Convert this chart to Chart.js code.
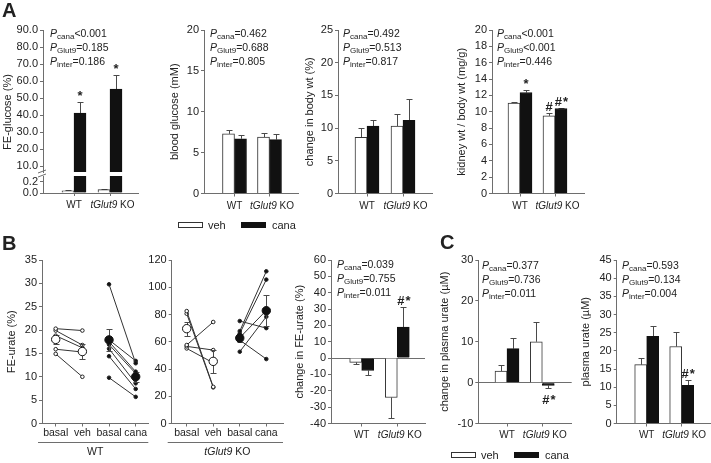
<!DOCTYPE html>
<html>
<head>
<meta charset="utf-8">
<title>Figure</title>
<script src="https://cdn.jsdelivr.net/npm/chart.js@4.4.1/dist/chart.umd.min.js"></script>
<style>
html,body{margin:0;padding:0;background:#fff;}
#fig{position:relative;width:711px;height:463px;overflow:hidden;font-family:Arial,"Liberation Sans",Helvetica,sans-serif;color:#222;}
#fig canvas{position:absolute;}
.letter{position:absolute;font-weight:bold;font-size:20px;line-height:20px;}
.pv{position:absolute;font-size:10.5px;line-height:14px;white-space:nowrap;}
.pv sub{font-size:8px;position:relative;top:2px;vertical-align:baseline;line-height:0;}
.ytitle{position:absolute;font-size:11px;white-space:nowrap;transform:translate(-50%,-50%) rotate(-90deg);}
.lgtxt{position:absolute;font-size:11px;line-height:12px;white-space:nowrap;transform:translateY(-50%);}
.sw{position:absolute;width:25px;height:6px;box-sizing:border-box;border:1px solid #333;transform:translateY(-50%);}
</style>
</head>
<body>
<div id="fig"></div>
<script>
// ================= DATA =================
const groups = ['WT', 'tGlut9 KO'];
const italicPart = 'tGlut9';
const pairLabels = ['basal', 'veh', 'basal', 'cana'];
const seriesNames = ['veh', 'cana'];
const pNames = ['cana', 'Glut9', 'inter'];

// A: FE-glucose (%)  (broken axis)
const feGluVeh = [0.04, 0.06];
const feGluVehErr = [0.01, 0.012];
const feGluCana = [41.2, 55.3];
const feGluCanaErr = [6.5, 8.0];
const feGluCanaMarks = ['*', '*'];
const feGluTicksUpper = [10, 20, 30, 40, 50, 60, 70, 80, 90];
const feGluTicksLower = [0, 0.2];
const feGluP = ['<0.001', '=0.185', '=0.186'];

// A: blood glucose (mM)
const bgVeh = [7.3, 6.9];
const bgVehErr = [0.5, 0.45];
const bgCana = [6.7, 6.6];
const bgCanaErr = [0.45, 0.7];
const bgTicks = [0, 5, 10, 15, 20];
const bgP = ['=0.462', '=0.688', '=0.805'];

// A: change in body wt (%)
const bwVeh = [8.6, 10.3];
const bwVehErr = [1.4, 1.8];
const bwCana = [10.3, 11.2];
const bwCanaErr = [1.0, 3.2];
const bwTicks = [0, 5, 10, 15, 20, 25];
const bwP = ['=0.492', '=0.513', '=0.817'];

// A: kidney wt / body wt (mg/g)
const kwVeh = [11.05, 9.5];
const kwVehErr = [0.2, 0.4];
const kwCana = [12.35, 10.4];
const kwCanaErr = [0.25, 0.08];
const kwVehMarks = ['', '#'];
const kwCanaMarks = ['*', '#*'];
const kwTicks = [0, 2, 4, 6, 8, 10, 12, 14, 16, 18, 20];
const kwP = ['<0.001', '<0.001', '=0.446'];

// B: FE-urate (%) WT, paired
const wtVehBasal = [20.3, 19.9, 18.8, 15.9, 14.9];
const wtVehAfter = [19.9, 16.8, 16.2, 15.3, 10.0];
const wtCanaBasal = [29.8, 17.9, 17.5, 16.9, 16.0, 14.4, 9.8];
const wtCanaAfter = [12.9, 13.4, 11.1, 10.7, 8.6, 7.4, 5.7];
const wtVehMean = [18.0, 15.4];
const wtVehSem = [1.0, 1.6];
const wtCanaMean = [17.9, 10.0];
const wtCanaSem = [2.3, 1.1];
const feUrWtTicks = [0, 5, 10, 15, 20, 25, 30, 35];

// B: FE-urate (%) tGlut9 KO, paired
const koVehBasal = [82.5, 80.6, 57.6, 56.6, 55.1];
const koVehAfter = [26.9, 26.5, 74.5, 53.9, 44.5];
const koCanaBasal = [75.2, 67.8, 66.1, 63.0, 61.2, 52.7];
const koCanaAfter = [70.0, 111.7, 105.6, 83.0, 47.3, 78.4];
const koVehMean = [69.6, 45.6];
const koVehSem = [5.1, 8.6];
const koCanaMean = [62.7, 82.8];
const koCanaSem = [2.7, 11.4];
const feUrKoTicks = [0, 20, 40, 60, 80, 100, 120];

// B: change in FE-urate (%)
const dFeVeh = [-2.6, -24.1];
const dFeVehErr = [1.1, 12.8];
const dFeCana = [-7.6, 19.0];
const dFeCanaErr = [2.8, 12.2];
const dFeCanaMarks = ['', '#*'];
const dFeTicks = [-40, -30, -20, -10, 0, 10, 20, 30, 40, 50, 60];
const dFeP = ['=0.039', '=0.755', '=0.011'];

// C: change in plasma urate (µM)
const dPuVeh = [2.8, 10.0];
const dPuVehErr = [1.5, 4.9];
const dPuCana = [8.3, -0.7];
const dPuCanaErr = [2.6, 0.6];
const dPuCanaMarks = ['', '#*'];
const dPuTicks = [-10, 0, 10, 20, 30];
const dPuP = ['=0.377', '=0.736', '=0.011'];

// C: plasma urate (µM)
const puVeh = [16.2, 21.2];
const puVehErr = [1.8, 3.9];
const puCana = [24.0, 10.5];
const puCanaErr = [2.8, 1.4];
const puCanaMarks = ['', '#*'];
const puTicks = [0, 5, 10, 15, 20, 25, 30, 35, 40, 45];
const puP = ['=0.593', '=0.134', '=0.004'];

// ================= STYLE / HELPERS =================
const FONT = 'Arial, "Liberation Sans", Helvetica, sans-serif';
const TXT = '#222', AX = '#6e6e6e', ERR = '#4a4a4a';
const XLAB = 10;                 // x label font size
const labelShift = [0, 2.5];     // horizontal nudge of group labels under the bars
Chart.defaults.font.family = FONT;
Chart.defaults.font.size = 11;
Chart.defaults.color = TXT;

const fig = document.getElementById('fig');

function mkCanvas(l, t, w, h) {
  const c = document.createElement('canvas');
  c.width = w; c.height = h;
  c.style.left = l + 'px'; c.style.top = t + 'px';
  c.style.width = w + 'px'; c.style.height = h + 'px';
  fig.appendChild(c);
  return c;
}

function place(area, wy, hx, padTop, padRight, padBottom) {
  const left = Math.floor(area.l - wy);
  const top = Math.floor(area.t - padTop);
  const W = Math.ceil(area.r + padRight) - left;
  const H = Math.ceil(area.b + hx + padBottom) - top;
  return {
    canvas: mkCanvas(left, top, W, H),
    wy: area.l - left,
    padding: { left: 0, top: area.t - top, right: left + W - area.r, bottom: top + H - area.b - hx }
  };
}

function xRange(area, c1, cn, n) {
  const s = (cn - c1) / (n - 1);
  return { min: 1 - (c1 - area.l) / s, max: n + (area.r - cn) / s };
}

function richText(ctx, text, cx, cy, size) {
  const parts = [];
  const k = text.indexOf(italicPart);
  if (k >= 0) {
    if (k > 0) parts.push([text.slice(0, k), false]);
    parts.push([italicPart, true]);
    const rest = text.slice(k + italicPart.length);
    if (rest) parts.push([rest, false]);
  } else parts.push([text, false]);
  const fonts = parts.map(p => (p[1] ? 'italic ' : '') + size + 'px ' + FONT);
  let total = 0;
  const ws = parts.map((p, i) => { ctx.font = fonts[i]; const w = ctx.measureText(p[0]).width; total += w; return w; });
  let x = cx - total / 2;
  ctx.textAlign = 'left';
  parts.forEach((p, i) => { ctx.font = fonts[i]; ctx.fillText(p[0], x, cy); x += ws[i]; });
}

const extras = {
  id: 'extras',
  beforeDatasetDraw(chart, args) {
    const ds = chart.data.datasets[args.index];
    if (!ds.errors) return;
    const ys = chart.scales.y, a = chart.chartArea, ctx = chart.ctx;
    ctx.save();
    ctx.beginPath();
    ctx.rect(a.left - 10, a.top - 0.5, a.right - a.left + 20, a.bottom - a.top + 1);
    ctx.clip();
    ctx.strokeStyle = ERR; ctx.lineWidth = 1;
    args.meta.data.forEach((el, i) => {
      const v = ds.data[i].y, e = ds.errors[i];
      if (e == null) return;
      const x = Math.round(el.x) + 0.5;
      const cap = ds.errCap || 3;
      const dirs = ds.errBoth ? [1, -1] : [v < 0 ? -1 : 1];
      dirs.forEach(d => {
        const y0 = ys.getPixelForValue(v);
        const y1 = Math.round(ys.getPixelForValue(v + d * e)) + 0.5;
        ctx.beginPath();
        ctx.moveTo(x, y0); ctx.lineTo(x, y1);
        ctx.moveTo(x - cap, y1); ctx.lineTo(x + cap, y1);
        ctx.stroke();
      });
    });
    ctx.restore();
  },
  afterDatasetsDraw(chart) {
    const ctx = chart.ctx, ys = chart.scales.y, a = chart.chartArea;
    chart.data.datasets.forEach((ds, di) => {
      if (!ds.marks) return;
      const meta = chart.getDatasetMeta(di);
      ds.marks.forEach((m, i) => {
        if (!m) return;
        const v = ds.data[i].y, e = ds.errors ? ds.errors[i] : 0;
        const neg = v < 0;
        const yEdge = ys.getPixelForValue(neg ? v - e : v + e);
        if (yEdge < a.top || yEdge > a.bottom) return;
        ctx.save();
        ctx.font = 'bold 13px ' + FONT;
        if ('letterSpacing' in ctx) ctx.letterSpacing = m.length > 1 ? '1px' : '0px';
        ctx.fillStyle = TXT; ctx.textAlign = 'center';
        ctx.textBaseline = neg ? 'top' : 'alphabetic';
        ctx.fillText(m, meta.data[i].x + (m.length > 1 ? 1 : 0), neg ? yEdge + 6 : yEdge - 2);
        ctx.restore();
      });
    });
  },
  afterDraw(chart, args, o) {
    const ctx = chart.ctx, a = chart.chartArea, xs = chart.scales.x;
    if (o.xLabels) {
      ctx.save(); ctx.fillStyle = TXT; ctx.textBaseline = 'middle';
      o.xLabels.forEach((t, i) => richText(ctx, t, xs.getPixelForValue(i + 1) + labelShift[i], a.bottom + o.labelDy, XLAB));
      ctx.restore();
    }
    if (o.group) {
      ctx.save(); ctx.strokeStyle = AX; ctx.lineWidth = 1;
      const y = Math.round(a.bottom + o.group.lineDy) + 0.5;
      ctx.beginPath(); ctx.moveTo(a.left - o.group.ext, y); ctx.lineTo(a.right, y); ctx.stroke();
      ctx.fillStyle = TXT; ctx.textBaseline = 'middle';
      richText(ctx, o.group.text, (a.left + a.right) / 2, a.bottom + o.group.textDy, XLAB + 0.5);
      ctx.restore();
    }
    if (o.breakMarks) {
      ctx.save(); ctx.strokeStyle = AX; ctx.lineWidth = 1;
      [a.top - 0.5, a.top - 4.5].forEach(y => {
        ctx.beginPath(); ctx.moveTo(a.left - 5, y + 1.5); ctx.lineTo(a.left + 3, y - 1.5); ctx.stroke();
      });
      ctx.restore();
    }
  }
};
Chart.register(extras);

function yAxis(o) {
  return {
    type: 'linear', position: 'left', min: o.min, max: o.max,
    afterBuildTicks: s => { s.ticks = o.ticks.map(v => ({ value: v })); },
    afterFit: s => { s.width = o.wy; },
    ticks: { font: { size: 11 }, color: TXT, padding: 2, callback: o.fmt || (v => String(v)) },
    grid: {
      drawOnChartArea: !!o.zero, drawTicks: true, tickLength: 3, lineWidth: 1,
      color: c => (o.zero && c.tick && c.tick.value === 0) ? AX : 'rgba(0,0,0,0)',
      tickColor: AX
    },
    border: { display: true, color: AX, width: 1 },
    title: o.title ? { display: true, text: o.title, font: { size: 11 }, color: TXT, padding: 0 } : { display: false }
  };
}

function xAxis(o) {
  return {
    type: 'linear', position: 'bottom', min: o.min, max: o.max, offset: false,
    display: o.display !== false,
    afterBuildTicks: s => { s.ticks = o.pos.map(v => ({ value: v })); },
    afterFit: s => { s.height = o.hx; },
    ticks: {
      display: !!o.labels, autoSkip: false, maxRotation: 0, minRotation: 0,
      font: { size: XLAB + 0.5 }, color: TXT, padding: 0,
      callback: (v, i) => o.labels ? o.labels[i] : ''
    },
    grid: { offset: false, drawOnChartArea: false, drawTicks: true, tickLength: 3, color: AX, tickColor: AX },
    border: { display: true, color: AX, width: 1 }
  };
}

const baseOpts = p => ({
  responsive: false, animation: false, events: [],
  layout: { padding: p.padding }
});

function barChart(o) {
  const hx = o.showX === false ? 0 : 22;
  const p = place(o.area, o.wy, hx, 10, o.padRight == null ? 20 : o.padRight, o.showX === false ? 10 : 0);
  const xr = xRange(o.area, o.centers[0], o.centers[1], 2);
  const pts = vals => vals.map((v, i) => ({ x: i + 1, y: v }));
  return new Chart(p.canvas, {
    type: 'bar',
    data: {
      datasets: [
        { label: seriesNames[0], data: pts(o.veh), errors: o.vehErr, marks: o.vehMarks,
          backgroundColor: '#fff', borderColor: '#333', borderWidth: 1, barThickness: 12 },
        { label: seriesNames[1], data: pts(o.cana), errors: o.canaErr, marks: o.canaMarks,
          backgroundColor: '#111', borderColor: '#111', borderWidth: 1, barThickness: 12 }
      ]
    },
    options: Object.assign(baseOpts(p), {
      plugins: {
        legend: { display: false }, tooltip: { enabled: false },
        extras: { xLabels: o.showX === false ? null : groups, labelDy: o.labelDy || 11.5, breakMarks: !!o.breakMarks }
      },
      scales: {
        x: xAxis({ min: xr.min, max: xr.max, pos: [1, 2], hx: hx, display: o.showX !== false }),
        y: yAxis({ min: o.min, max: o.max, ticks: o.ticks, wy: p.wy, title: o.title, zero: o.zero, fmt: o.fmt })
      }
    })
  });
}

function pairChart(o) {
  const hx = 39.5;
  const p = place(o.area, o.wy, hx, 10, 20, 0);
  const xr = xRange(o.area, o.c1, o.c4, 4);
  const meanDs = (m, s, x0, fill) => ({
    data: [{ x: x0, y: m[0] }, { x: x0 + 1, y: m[1] }], errors: s, errBoth: true, showLine: false,
    pointRadius: 4.2, pointBackgroundColor: fill, pointBorderColor: '#111', pointBorderWidth: 1,
    borderColor: '#111', order: 0
  });
  const pairDs = (b, t, x0, fill) => ({
    data: [{ x: x0, y: b }, { x: x0 + 1, y: t }], showLine: true, borderColor: '#333', borderWidth: 1,
    pointRadius: 1.8, pointBackgroundColor: fill, pointBorderColor: '#222', pointBorderWidth: 1, order: 1
  });
  const datasets = [meanDs(o.vehMean, o.vehSem, 1, '#fff'), meanDs(o.canaMean, o.canaSem, 3, '#111')];
  o.vehBasal.forEach((b, i) => datasets.push(pairDs(b, o.vehAfter[i], 1, '#fff')));
  o.canaBasal.forEach((b, i) => datasets.push(pairDs(b, o.canaAfter[i], 3, '#111')));
  return new Chart(p.canvas, {
    type: 'line',
    data: { datasets },
    options: Object.assign(baseOpts(p), {
      plugins: {
        legend: { display: false }, tooltip: { enabled: false },
        extras: { group: { text: o.group, lineDy: 18.2, textDy: 28.5, ext: 4 } }
      },
      scales: {
        x: xAxis({ min: xr.min, max: xr.max, pos: [1, 2, 3, 4], hx: hx, labels: pairLabels }),
        y: yAxis({ min: o.min, max: o.max, ticks: o.ticks, wy: p.wy, title: o.title })
      }
    })
  });
}

// ================= CHARTS =================
const rowA = { t: 30, b: 193.5 };
const rowB = { t: 260, b: 423.5 };

// A1 upper (broken axis top part)
barChart({ area: { l: 43, r: 138, t: 30, b: 172 }, wy: 43, centers: [74, 110], showX: false,
  veh: feGluVeh, vehErr: feGluVehErr, cana: feGluCana, canaErr: feGluCanaErr, canaMarks: feGluCanaMarks,
  min: 6.5, max: 90, ticks: feGluTicksUpper, fmt: v => v.toFixed(1) });
// A1 lower
barChart({ area: { l: 43, r: 138, t: 176, b: 193 }, wy: 43, centers: [74, 110], breakMarks: true, labelDy: 12.5,
  veh: feGluVeh, vehErr: feGluVehErr, cana: feGluCana, canaErr: feGluCanaErr,
  min: 0, max: 0.3, ticks: feGluTicksLower, fmt: v => v.toFixed(1) });
// A2
barChart({ area: { l: 204, r: 298, t: rowA.t, b: rowA.b }, wy: 36, centers: [234.5, 269.5], labelDy: 12.5,
  veh: bgVeh, vehErr: bgVehErr, cana: bgCana, canaErr: bgCanaErr,
  min: 0, max: 20, ticks: bgTicks, title: 'blood glucose (mM)' });
// A3
barChart({ area: { l: 338, r: 432, t: rowA.t, b: rowA.b }, wy: 35, centers: [367, 403], labelDy: 12.5,
  veh: bwVeh, vehErr: bwVehErr, cana: bwCana, canaErr: bwCanaErr,
  min: 0, max: 25, ticks: bwTicks, title: 'change in body wt (%)' });
// A4
barChart({ area: { l: 492, r: 584, t: rowA.t, b: rowA.b }, wy: 37, centers: [520, 555], labelDy: 12.5,
  veh: kwVeh, vehErr: kwVehErr, vehMarks: kwVehMarks, cana: kwCana, canaErr: kwCanaErr, canaMarks: kwCanaMarks,
  min: 0, max: 20, ticks: kwTicks, title: 'kidney wt / body wt (mg/g)' });

// B1
pairChart({ area: { l: 42, r: 148.3, t: rowB.t, b: rowB.b }, wy: 37, c1: 55.7, c4: 135.7, group: groups[0],
  vehBasal: wtVehBasal, vehAfter: wtVehAfter, canaBasal: wtCanaBasal, canaAfter: wtCanaAfter,
  vehMean: wtVehMean, vehSem: wtVehSem, canaMean: wtCanaMean, canaSem: wtCanaSem,
  min: 0, max: 35, ticks: feUrWtTicks, title: 'FE-urate (%)' });
// B2
pairChart({ area: { l: 171.7, r: 283, t: rowB.t, b: rowB.b }, wy: 30, c1: 186.7, c4: 266.3, group: groups[1],
  vehBasal: koVehBasal, vehAfter: koVehAfter, canaBasal: koCanaBasal, canaAfter: koCanaAfter,
  vehMean: koVehMean, vehSem: koVehSem, canaMean: koCanaMean, canaSem: koCanaSem,
  min: 0, max: 120, ticks: feUrKoTicks });
// B3
barChart({ area: { l: 331, r: 425, t: rowB.t, b: rowB.b }, wy: 38, centers: [361.7, 397.3], zero: true,
  veh: dFeVeh, vehErr: dFeVehErr, cana: dFeCana, canaErr: dFeCanaErr, canaMarks: dFeCanaMarks,
  min: -40, max: 60, ticks: dFeTicks, title: 'change in FE-urate (%)' });
// C1
barChart({ area: { l: 478.3, r: 571.7, t: rowB.t, b: rowB.b }, wy: 40, centers: [507, 542.3], zero: true,
  veh: dPuVeh, vehErr: dPuVehErr, cana: dPuCana, canaErr: dPuCanaErr, canaMarks: dPuCanaMarks,
  min: -10, max: 30, ticks: dPuTicks, title: 'change in plasma urate (\u00b5M)' });
// C2
barChart({ area: { l: 616.7, r: 710, t: rowB.t, b: rowB.b }, wy: 37, centers: [646.7, 681.7], padRight: 1,
  veh: puVeh, vehErr: puVehErr, cana: puCana, canaErr: puCanaErr, canaMarks: puCanaMarks,
  min: 0, max: 45, ticks: puTicks, title: 'plasma urate (\u00b5M)' });

// ================= TEXT OVERLAYS =================
function addDiv(cls, html, style) {
  const d = document.createElement('div');
  d.className = cls; d.innerHTML = html;
  Object.assign(d.style, style);
  fig.appendChild(d);
  return d;
}
const esc = s => s.replace(/</g, '&lt;');
function pBlock(x, yFirst, vals) {
  addDiv('pv', vals.map((v, i) => '<i>P</i><sub>' + pNames[i] + '</sub>' + esc(v)).join('<br>'),
    { left: x + 'px', top: (yFirst - 7) + 'px' });
}
pBlock(50, 33, feGluP);
pBlock(210, 33, bgP);
pBlock(343, 33, bwP);
pBlock(497, 33, kwP);
pBlock(337, 263.5, dFeP);
pBlock(482, 265, dPuP);
pBlock(622, 265, puP);

addDiv('letter', 'A', { left: '2px', top: '0px' });
addDiv('letter', 'B', { left: '2px', top: '233px' });
addDiv('letter', 'C', { left: '440px', top: '232px' });

addDiv('ytitle', 'FE-glucose (%)', { left: '7px', top: '111.5px' });

function legend(x, y) {
  addDiv('sw', '', { left: x + 'px', top: y + 'px', background: '#fff' });
  addDiv('lgtxt', seriesNames[0], { left: (x + 30) + 'px', top: y + 'px' });
  addDiv('sw', '', { left: (x + 63) + 'px', top: y + 'px', background: '#111', borderColor: '#111' });
  addDiv('lgtxt', seriesNames[1], { left: (x + 94) + 'px', top: y + 'px' });
}
legend(178, 225);
legend(451, 455);
</script>
</body>
</html>
